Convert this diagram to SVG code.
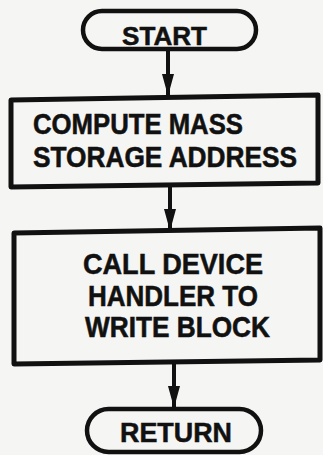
<svg xmlns="http://www.w3.org/2000/svg" width="323" height="455" viewBox="0 0 323 455">
  <style>
    .frame { fill: none; stroke: #111; stroke-width: 5; stroke-linejoin: round; }
    .term { fill: none; stroke: #111; stroke-width: 4.5; }
    .flow { fill: none; stroke: #111; stroke-width: 4; }
    .label { font-family: "Liberation Sans", Arial, sans-serif; font-weight: bold; fill: #111; stroke: #111; stroke-width: 0.5; }
  </style>
  <defs>
    <marker id="head" markerUnits="userSpaceOnUse" markerWidth="22" markerHeight="12" viewBox="0 0 22 12" refX="22" refY="6" orient="auto">
      <path d="M0,0 L22,6 L0,12 z" fill="#111"/>
    </marker>
  </defs>

  <rect x="0" y="0" width="323" height="455" fill="#f5f5f3"/>

  <!-- connectors -->
  <g id="connectors">
    <line class="flow" x1="168" y1="49" x2="168" y2="96" marker-end="url(#head)"/>
    <line class="flow" x1="170" y1="185" x2="170" y2="231" marker-end="url(#head)"/>
    <line class="flow" x1="174" y1="361" x2="174" y2="408" marker-end="url(#head)"/>
  </g>

  <!-- start terminal -->
  <g id="start">
    <rect class="term" x="83" y="11" width="173" height="38" rx="19" ry="19"/>
    <text class="label" x="122" y="45" font-size="25" textLength="85" lengthAdjust="spacingAndGlyphs">START</text>
  </g>

  <!-- compute address step (lettering drawn slightly tall) -->
  <g id="compute">
    <polygon class="frame" points="11,100 318,95 318,183 11,187"/>
    <text class="label" font-size="26" transform="translate(0,134) scale(1,1.12)">
      <tspan x="33" y="0" textLength="210" lengthAdjust="spacingAndGlyphs">COMPUTE MASS</tspan>
      <tspan x="33" y="29.5" textLength="264" lengthAdjust="spacingAndGlyphs">STORAGE ADDRESS</tspan>
    </text>
  </g>

  <!-- device handler call -->
  <g id="call">
    <polygon class="frame" points="14,233 320,228 320,360 14,364"/>
    <text class="label" font-size="27" transform="translate(0,274) scale(1,1.08)">
      <tspan x="83" y="0" textLength="180" lengthAdjust="spacingAndGlyphs">CALL DEVICE</tspan>
      <tspan x="88" y="29.6" textLength="170" lengthAdjust="spacingAndGlyphs">HANDLER TO</tspan>
      <tspan x="85" y="58.3" textLength="185" lengthAdjust="spacingAndGlyphs">WRITE BLOCK</tspan>
    </text>
  </g>

  <!-- return terminal -->
  <g id="return">
    <rect class="term" x="87" y="409" width="174" height="43" rx="21.5" ry="21.5"/>
    <text class="label" x="120" y="442" font-size="27" textLength="112" lengthAdjust="spacingAndGlyphs">RETURN</text>
  </g>
</svg>
